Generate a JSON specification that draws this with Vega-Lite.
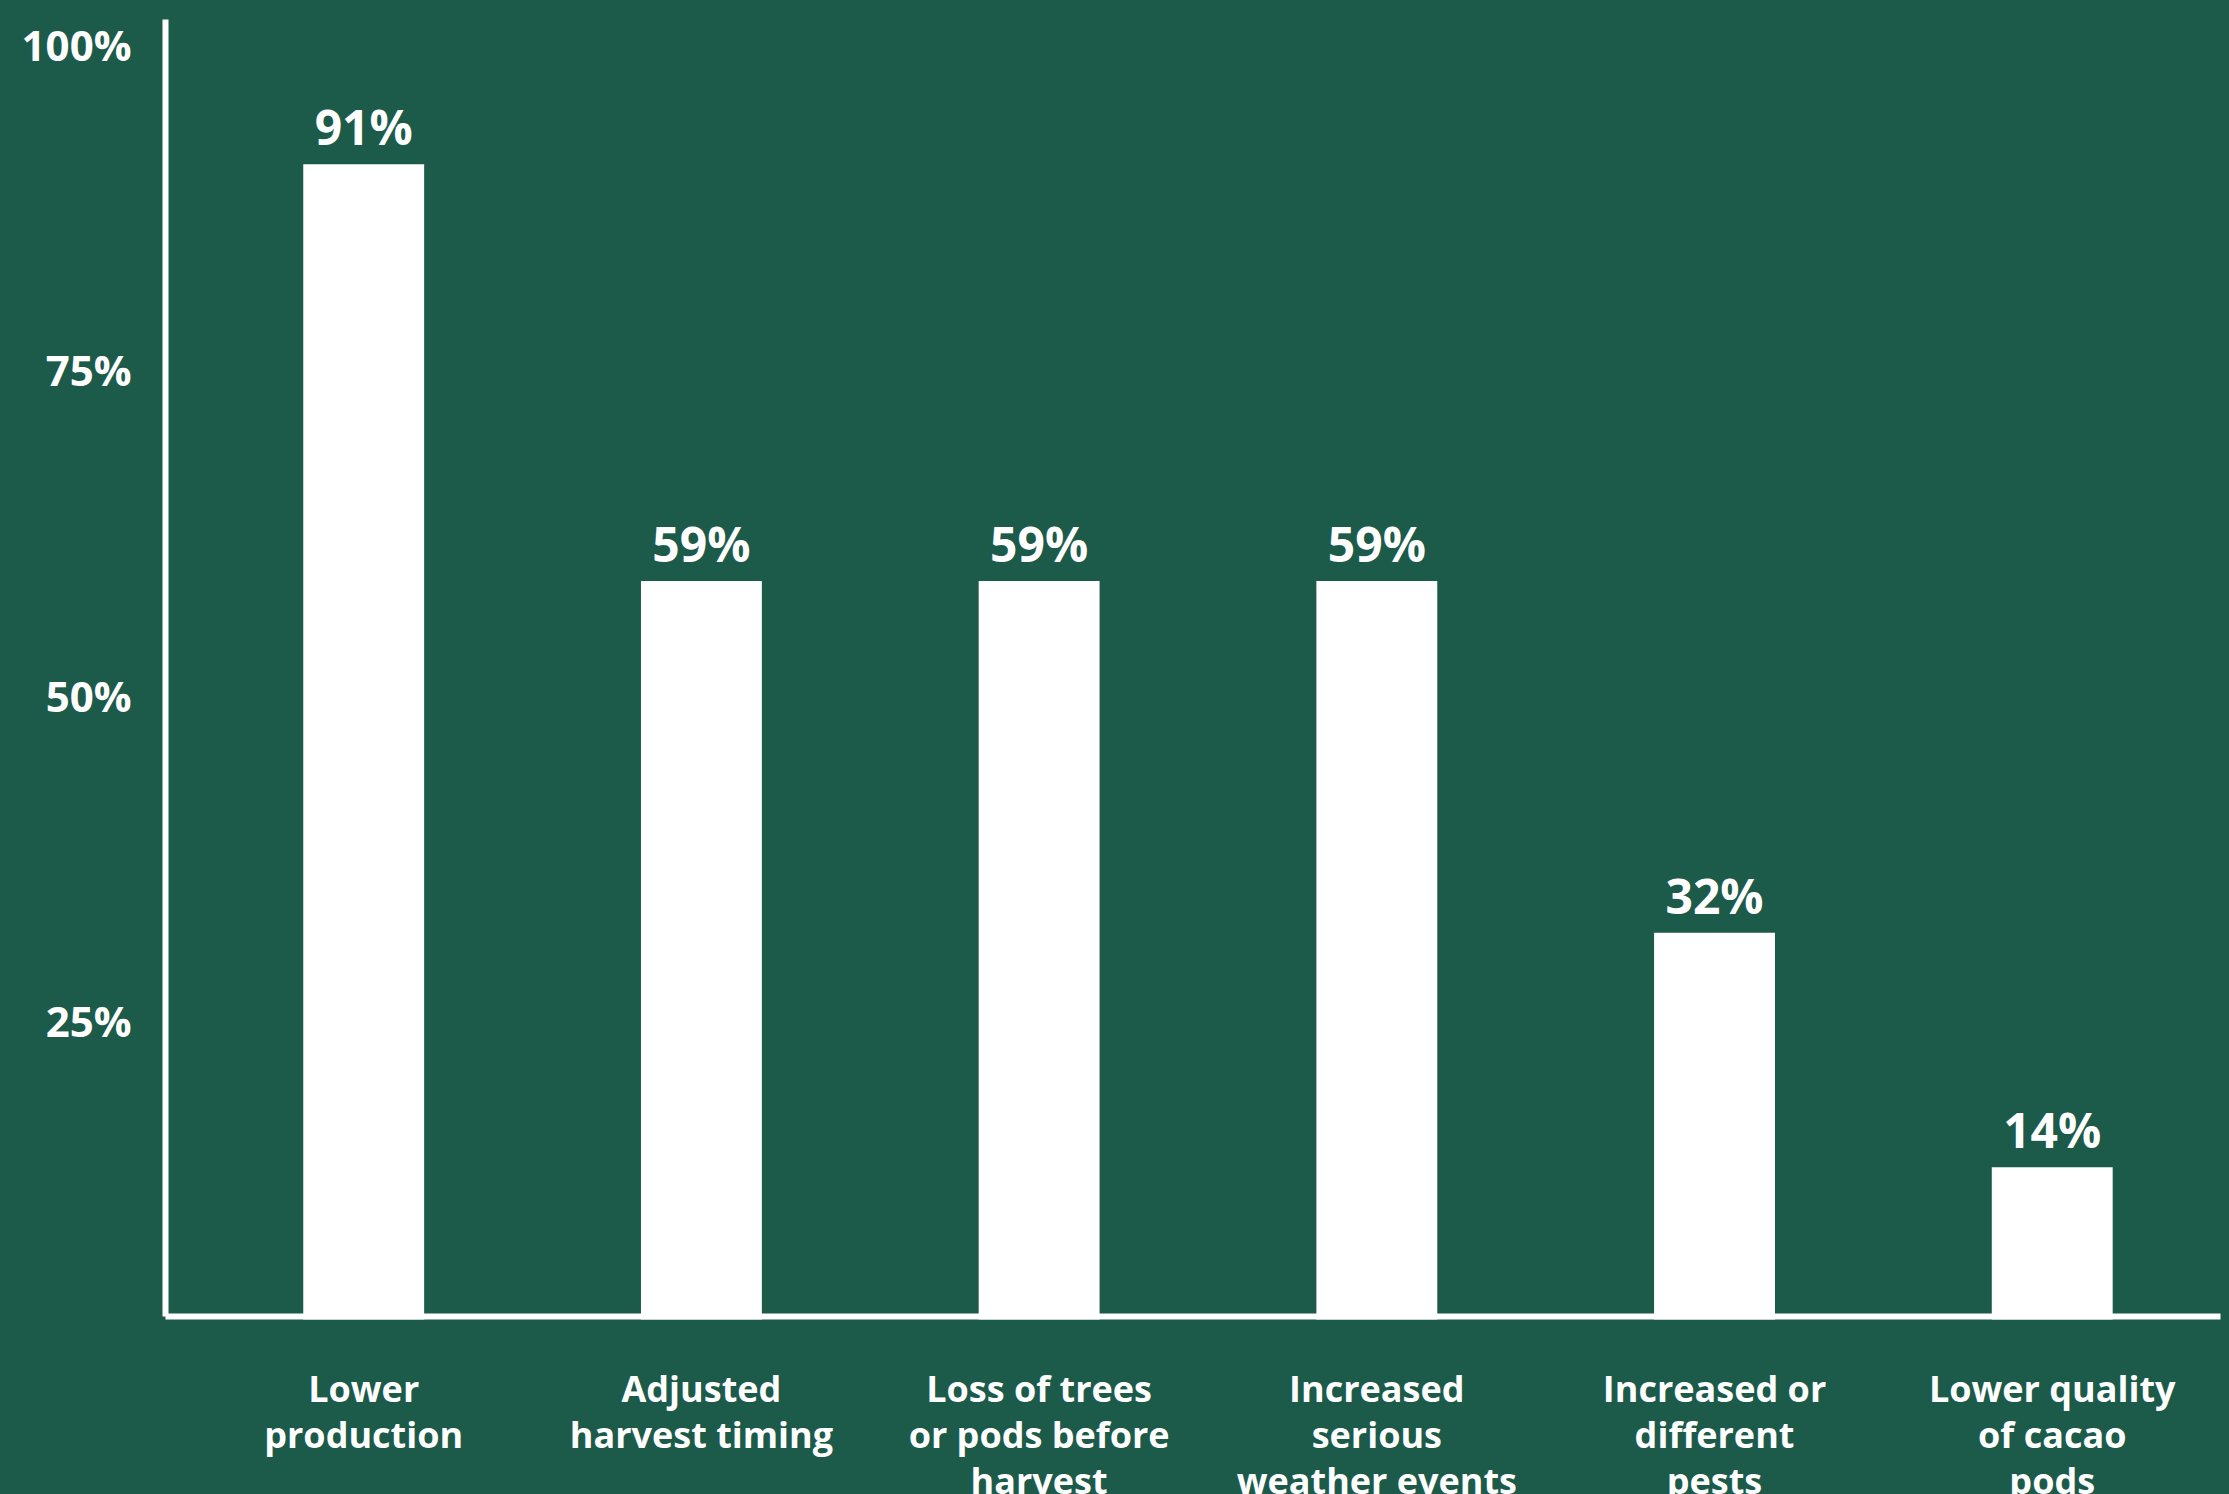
{
  "$schema": "https://vega.github.io/schema/vega-lite/v6.json",
  "autosize": "none",
  "width": 2055,
  "height": 1297,
  "padding": {"left": 165, "top": 19, "right": 9, "bottom": 178},
  "background": "#1c5a4a",
  "config": {
    "view": {"stroke": null},
    "font": "Open Sans"
  },
  "data": {
    "values": [
      {"cat": "Lower|production", "value": 91, "label": "91%"},
      {"cat": "Adjusted|harvest timing", "value": 59, "label": "59%"},
      {"cat": "Loss of trees|or pods before|harvest", "value": 59, "label": "59%"},
      {"cat": "Increased|serious|weather events", "value": 59, "label": "59%"},
      {"cat": "Increased or|different|pests", "value": 32, "label": "32%"},
      {"cat": "Lower quality|of cacao|pods", "value": 14, "label": "14%"}
    ]
  },
  "encoding": {
    "x": {
      "field": "cat",
      "type": "nominal",
      "sort": null,
      "title": null,
      "scale": {"paddingInner": 0.642, "paddingOuter": 0.3636, "align": 0.563},
      "axis": {
        "domain": true,
        "domainColor": "#ffffff",
        "domainWidth": 6,
        "ticks": false,
        "tickSize": 0,
        "labelAngle": 0,
        "labelExpr": "split(datum.label, '|')",
        "labelFont": "Open Sans",
        "labelFontWeight": "bold",
        "labelFontSize": 36,
        "labelLineHeight": 46,
        "labelColor": "#ffffff",
        "labelPadding": 57,
        "labelLimit": 500,
        "grid": false
      }
    },
    "y": {
      "field": "value",
      "type": "quantitative",
      "title": null,
      "scale": {"domain": [2.57, 102.15], "zero": false, "nice": false},
      "axis": {
        "values": [25, 50, 75, 100],
        "labelExpr": "datum.value + '%'",
        "domain": true,
        "domainColor": "#ffffff",
        "domainWidth": 6,
        "ticks": false,
        "tickSize": 0,
        "grid": false,
        "labelFont": "Open Sans",
        "labelFontWeight": "bold",
        "labelFontSize": 42,
        "labelColor": "#ffffff",
        "labelPadding": 34
      }
    }
  },
  "layer": [
    {
      "mark": {"type": "bar", "color": "#ffffff"},
      "encoding": {"y2": {"datum": 2.3}}
    },
    {
      "mark": {
        "type": "text",
        "color": "#ffffff",
        "font": "Open Sans",
        "fontWeight": "bold",
        "fontSize": 48,
        "baseline": "alphabetic",
        "dy": -19
      },
      "encoding": {
        "text": {"field": "label", "type": "nominal"}
      }
    }
  ]
}
